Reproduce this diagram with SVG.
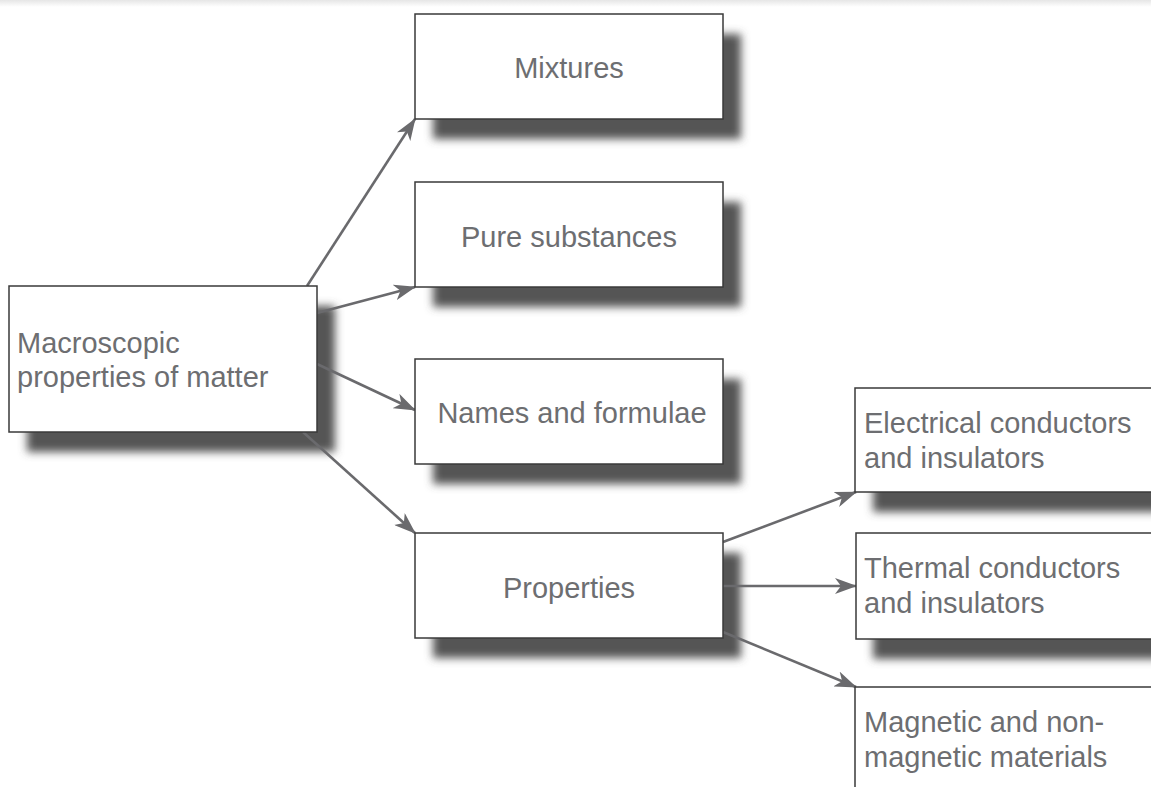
<svg xmlns="http://www.w3.org/2000/svg" width="1151" height="787" viewBox="0 0 1151 787">
<defs>
<style>
.box{fill:#fff;stroke:#3a3a3a;stroke-width:1.5}
.sh{fill:#555}
.t{font-family:"Liberation Sans",Arial,sans-serif;font-size:29px;fill:#6d6e71}
.c{text-anchor:middle}
.ln{stroke:#6a6a6d;stroke-width:2.6;fill:none;marker-end:url(#ah)}
</style>
<filter id="blur" x="-20%" y="-30%" width="140%" height="160%"><feGaussianBlur stdDeviation="4.5"/></filter>
<marker id="ah" viewBox="0 0 22 16" refX="21" refY="8" markerWidth="22" markerHeight="16" markerUnits="userSpaceOnUse" orient="auto">
<path d="M0,0 L22,8 L0,16 L6,8 Z" fill="#6a6a6d"/>
</marker>
<linearGradient id="top" x1="0" y1="0" x2="0" y2="1"><stop offset="0" stop-color="#e6e6e6"/><stop offset="1" stop-color="#fff"/></linearGradient>
</defs>
<rect width="1151" height="787" fill="#fff"/>
<rect width="1151" height="7" fill="url(#top)"/>
<g id="shadows" filter="url(#blur)">
<rect class="sh" x="433" y="34" width="308" height="105"/>
<rect class="sh" x="433" y="202" width="308" height="105"/>
<rect class="sh" x="433" y="379" width="308" height="105"/>
<rect class="sh" x="433" y="553" width="308" height="105"/>
<rect class="sh" x="27" y="306" width="308" height="146"/>
<rect class="sh" x="873" y="408" width="308" height="104"/>
<rect class="sh" x="873" y="553" width="308" height="106"/>
</g>
<g id="connectors">
<path class="ln" d="M307,286 L415,119"/>
<path class="ln" d="M317,313 L415,287"/>
<path class="ln" d="M317,364 L415,410"/>
<path class="ln" d="M303,432 L415,533"/>
<path class="ln" d="M723,542 L856,492"/>
<path class="ln" d="M723,586 L856,586"/>
<path class="ln" d="M723,632 L856,687"/>
</g>
<g id="n-macro">
<rect class="box" x="9" y="286" width="308" height="146"/>
<text class="t" x="17" y="353">Macroscopic</text>
<text class="t" x="17" y="387">properties of matter</text>
</g>
<g id="n-mixtures">
<rect class="box" x="415" y="14" width="308" height="105"/>
<text class="t c" x="569" y="78">Mixtures</text>
</g>
<g id="n-pure">
<rect class="box" x="415" y="182" width="308" height="105"/>
<text class="t c" x="569" y="247">Pure substances</text>
</g>
<g id="n-names">
<rect class="box" x="415" y="359" width="308" height="105"/>
<text class="t c" x="572" y="423">Names and formulae</text>
</g>
<g id="n-properties">
<rect class="box" x="415" y="533" width="308" height="105"/>
<text class="t c" x="569" y="598">Properties</text>
</g>
<g id="n-electrical">
<rect class="box" x="855" y="388" width="308" height="104"/>
<text class="t" x="864" y="433">Electrical conductors</text>
<text class="t" x="864" y="468">and insulators</text>
</g>
<g id="n-thermal">
<rect class="box" x="856" y="533" width="308" height="106"/>
<text class="t" x="864" y="578">Thermal conductors</text>
<text class="t" x="864" y="613">and insulators</text>
</g>
<g id="n-magnetic">
<rect class="box" x="855" y="687" width="308" height="106"/>
<text class="t" x="864" y="732">Magnetic and non-</text>
<text class="t" x="864" y="767">magnetic materials</text>
</g>
</svg>
